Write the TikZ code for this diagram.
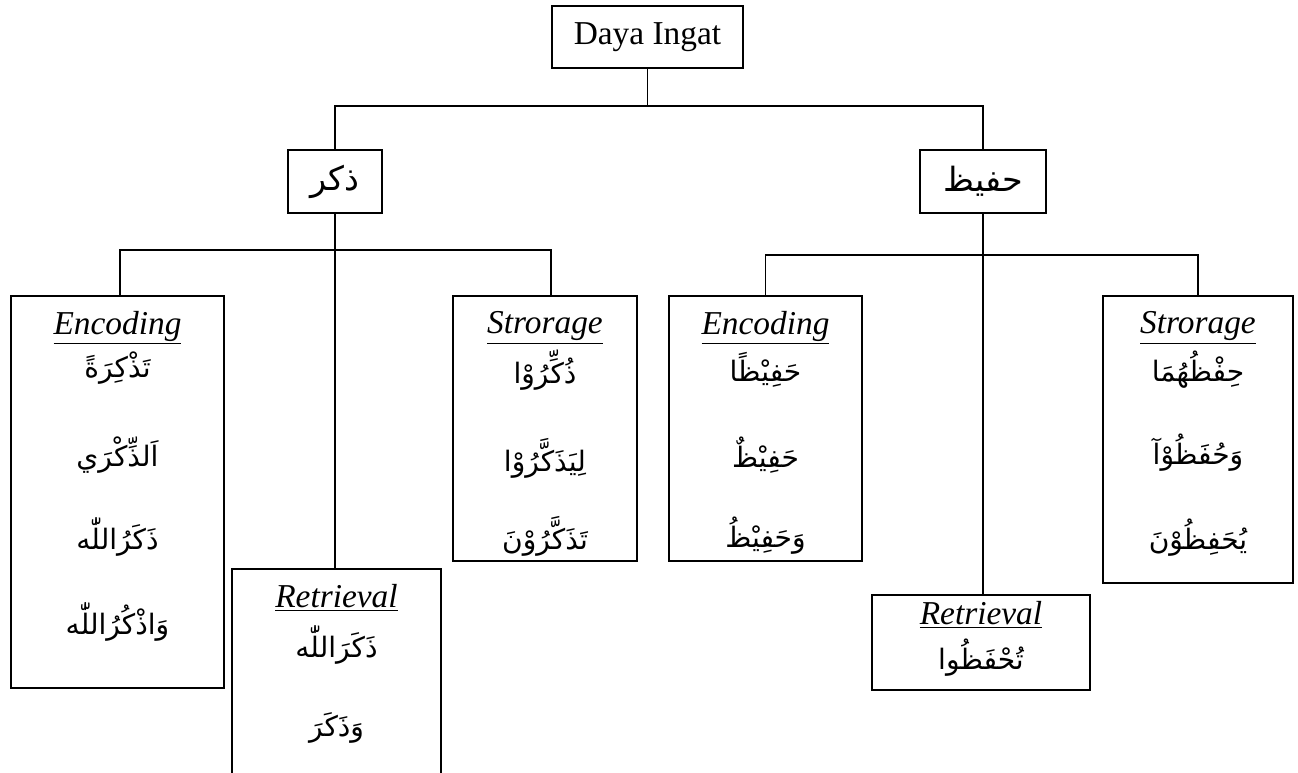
\documentclass[tikz,border=0pt]{standalone}
\usepackage{fontspec}
\setmainfont{Liberation Serif}
\newfontfamily\arabicfont[Script=Arabic]{DejaVu Sans}
\TeXXeTstate=1
\newcommand{\arab}[1]{{\arabicfont\beginR #1\endR}}
\begin{document}
\begin{tikzpicture}[x=0.02cm,y=-0.02cm,
  box/.style={draw, line width=1pt, inner sep=0pt},
  link/.style={line width=0.8pt},
  head/.style={font=\fontsize{19}{22}\selectfont},
  title/.style={font=\fontsize{19}{22}\selectfont\itshape},
  word/.style={font=\fontsize{16}{20}\selectfont}]
\useasboundingbox (0,0) rectangle (1298,773);
\clip (0,0) rectangle (1298,773);

% Top and second level
\node[box, head, minimum width=3.82cm, minimum height=1.24cm] (daya) at (647.5,37) {Daya Ingat};
\node[box, head, minimum width=1.88cm, minimum height=1.26cm] (zikr) at (335,181.5) {\arab{ذكر}};
\node[box, head, minimum width=2.52cm, minimum height=1.26cm] (hafiz) at (983,181.5) {\arab{حفيظ}};

% Boxes of the third level
\node[box, minimum width=4.26cm, minimum height=7.84cm] (encA) at (117.5,492) {};
\node[box, minimum width=4.18cm, minimum height=5.02cm] (retA) at (336.5,694.5) {};
\node[box, minimum width=3.68cm, minimum height=5.30cm] (stoA) at (545,428.5) {};
\node[box, minimum width=3.86cm, minimum height=5.30cm] (encB) at (765.5,428.5) {};
\node[box, minimum width=4.36cm, minimum height=1.90cm] (retB) at (981,642.5) {};
\node[box, minimum width=3.80cm, minimum height=5.74cm] (stoB) at (1198,439.5) {};

% Texts in the boxes
\node[title] (encAt) at (117.5,328) {\underline{Encoding}};
\node[word] (encA1) at (117.5,368) {\arab{تَذْكِرَةً}};
\node[word] (encA2) at (117.5,455) {\arab{اَلذِّكْرَي}};
\node[word] (encA3) at (117.5,537) {\arab{ذَكَرُاللّٰه}};
\node[word] (encA4) at (117.5,622) {\arab{وَاذْكُرُاللّٰه}};

\node[title] (retAt) at (336.5,598) {\underline{Retrieval}};
\node[word] (retA1) at (336.5,645) {\arab{ذَكَرَاللّٰه}};
\node[word] (retA2) at (336.5,728) {\arab{وَذَكَرَ}};

\node[title] (stoAt) at (545,328) {\underline{Strorage}};
\node[word] (stoA1) at (545,370) {\arab{ذُكِّرُوْا}};
\node[word] (stoA2) at (545,458) {\arab{لِيَذَكَّرُوْا}};
\node[word] (stoA3) at (545,536) {\arab{تَذَكَّرُوْنَ}};

\node[title] (encBt) at (765.5,328) {\underline{Encoding}};
\node[word] (encB1) at (765.5,370) {\arab{حَفِيْظًا}};
\node[word] (encB2) at (765.5,455) {\arab{حَفِيْظٌ}};
\node[word] (encB3) at (765.5,536) {\arab{وَحَفِيْظُ}};

\node[title] (retBt) at (981,615) {\underline{Retrieval}};
\node[word] (retB1) at (981,658) {\arab{تُحْفَظُوا}};

\node[title] (stoBt) at (1198,328) {\underline{Strorage}};
\node[word] (stoB1) at (1198,370) {\arab{حِفْظُهُمَا}};
\node[word] (stoB2) at (1198,453) {\arab{وَحُفَظُوْآ}};
\node[word] (stoB3) at (1198,538) {\arab{يُحَفِظُوْنَ}};

% Connectors
\coordinate (j0) at (647.5,106);
\coordinate (j1) at (335,250);
\coordinate (j2) at (983,255);
\draw[link] (daya.south) -- (j0);
\draw[link] (zikr.north) |- (j0) -| (hafiz.north);
\draw[link] ([xshift=0.05cm]encA.north) |- (j1) -| ([xshift=0.12cm]stoA.north);
\draw[link] (zikr.south) -- (zikr.south |- retA.north);
\draw[link] (encB.north) |- (j2) -| (stoB.north);
\draw[link] (hafiz.south) -- (hafiz.south |- retB.north);
\end{tikzpicture}
\end{document}
